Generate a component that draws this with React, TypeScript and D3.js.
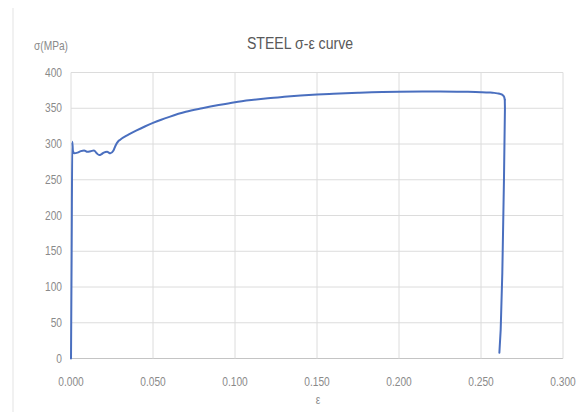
import React from "react";
import * as d3 from "d3";

const strain: number[] = [
  0, 0.0004, 0.0008, 0.0012, 0.002, 0.004, 0.006, 0.008, 0.010, 0.012, 0.014, 0.0157,
  0.0172, 0.0187, 0.020, 0.022, 0.024, 0.0258, 0.0272, 0.0287, 0.030, 0.035, 0.040,
  0.045, 0.050, 0.055, 0.060, 0.070, 0.080, 0.090, 0.100, 0.110, 0.120, 0.130, 0.140,
  0.150, 0.160, 0.175, 0.200, 0.225, 0.240, 0.250, 0.255, 0.258, 0.2600, 0.2620,
  0.2633, 0.2641, 0.2645,
];
const stress: number[] = [
  0, 150, 303, 290, 287, 288, 290, 291, 289, 290, 291, 287,
  284.5, 286, 288, 289, 287, 290.5, 298, 303.5, 306, 313, 319,
  324.5, 329.5, 334, 338, 345, 350, 354.5, 358.5, 361.5, 364, 366, 367.8,
  369.2, 370.3, 371.7, 373.2, 373.4, 373, 372.5, 372, 371.5, 370.8, 369.8,
  368.3, 366, 362,
];

const dropStrain: number[] = [0.2645, 0.2646, 0.2640, 0.2630, 0.2620, 0.2612];
const dropStress: number[] = [362, 350, 250, 120, 40, 8];

const xTicks: number[] = [0, 0.05, 0.1, 0.15, 0.2, 0.25, 0.3];
const yTicks: number[] = [0, 50, 100, 150, 200, 250, 300, 350, 400];

const title = "STEEL σ-ε curve";
const yTitle = "σ(MPa)";
const xTitle = "ε";

const FONT = "'Liberation Sans', Arial, sans-serif";

function T(props: {
  x: number;
  y: number;
  size: number;
  anchor: "start" | "middle" | "end";
  fill: string;
  sx?: number;
  children: React.ReactNode;
}) {
  const sx = props.sx ?? 0.85;
  return (
    <text
      transform={`translate(${props.x},${props.y}) scale(${sx},1)`}
      dy="0.35em"
      textAnchor={props.anchor}
      fontFamily={FONT}
      fontSize={props.size}
      fill={props.fill}
    >
      {props.children}
    </text>
  );
}

export default function App() {
  const W = 576;
  const H = 412;
  const x = d3.scaleLinear().domain([0, 0.3]).range([71, 563]);
  const y = d3.scaleLinear().domain([0, 400]).range([358.5, 72.5]);

  const pts: [number, number][] = strain.map((s, i) => [s, stress[i]]);
  const dropPts: [number, number][] = dropStrain.map((s, i) => [s, dropStress[i]]);
  const lineMain = d3
    .line<[number, number]>()
    .x((d) => x(d[0]))
    .y((d) => y(d[1]))
    .curve(d3.curveMonotoneX);
  const lineDrop = d3
    .line<[number, number]>()
    .x((d) => x(d[0]))
    .y((d) => y(d[1]))
    .curve(d3.curveLinear);

  const textColor = "#8a8a8a";
  const gridColor = "#dcdcdc";
  const lineColor = "#4a6fbf";

  return (
    <svg
      width={W}
      height={H}
      style={{ position: "absolute", left: 0, top: 0, background: "#fff" }}
    >
      <rect x={0} y={0} width={W} height={H} fill="#ffffff" />
      <line x1={13} x2={13} y1={8} y2={H} stroke="#e3e3e3" strokeWidth={1} />

      {yTicks.map((t) => (
        <line
          key={"gy" + t}
          x1={x(0)}
          x2={x(0.3)}
          y1={y(t)}
          y2={y(t)}
          stroke={t === 0 ? "#c4c4c4" : gridColor}
          strokeWidth={1}
        />
      ))}
      {xTicks.map((t) => (
        <line
          key={"gx" + t}
          x1={x(t)}
          x2={x(t)}
          y1={y(0)}
          y2={y(400)}
          stroke={gridColor}
          strokeWidth={1}
        />
      ))}

      {yTicks.map((t) => (
        <T key={"ty" + t} x={62} y={y(t)} size={12} anchor="end" fill={textColor}>
          {t}
        </T>
      ))}
      {xTicks.map((t) => (
        <T key={"tx" + t} x={x(t)} y={382} size={12} anchor="middle" fill={textColor}>
          {d3.format(".3f")(t)}
        </T>
      ))}

      <path
        d={lineMain(pts) || ""}
        fill="none"
        stroke={lineColor}
        strokeWidth={2}
        strokeLinejoin="round"
        strokeLinecap="round"
      />
      <path
        d={lineDrop(dropPts) || ""}
        fill="none"
        stroke={lineColor}
        strokeWidth={2}
        strokeLinejoin="round"
        strokeLinecap="round"
      />

      <T x={300} y={43} size={17} anchor="middle" fill="#595959" sx={0.83}>
        {title}
      </T>
      <T x={51} y={46} size={12} anchor="middle" fill={textColor}>
        {yTitle}
      </T>
      <T x={318} y={400} size={12} anchor="middle" fill={textColor}>
        {xTitle}
      </T>
    </svg>
  );
}
